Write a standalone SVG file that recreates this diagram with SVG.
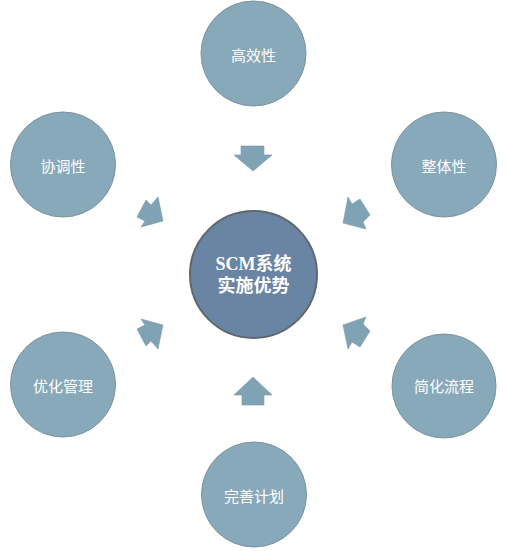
<svg xmlns="http://www.w3.org/2000/svg" width="507" height="551" viewBox="0 0 507 551">
<style>
.node{fill:#87a9ba;stroke:#7d929c;stroke-width:1}
.hub{fill:#6a85a3;stroke:#5f686d;stroke-width:2}
.lbl{font-family:"Noto Sans CJK SC","Noto Sans",sans-serif;font-size:15px;fill:#ffffff;text-anchor:middle;dominant-baseline:central}
.hubl{font-family:"Liberation Serif","Noto Sans CJK SC",serif;font-size:18px;font-weight:bold;fill:#ffffff;text-anchor:middle;dominant-baseline:central}
.arr{fill:#7fa3b5;stroke:#7898a8;stroke-width:0.6}
</style>
<rect width="507" height="551" fill="#ffffff"/>
<g id="connectors">
<polygon class="arr" points="241,146 264,146 264,155 272,155 253,171 234,155 241,155"/>
<polygon class="arr" points="253,377 272,395 264,395 264,405 242,405 242,395 234,395"/>
<polygon class="arr" points="163,221 158,197 151,205 146,200 137,217 145,221 141,227"/>
<polygon class="arr" points="163,325 158,349 151,341 146,346 137,329 145,325 141,319"/>
<polygon class="arr" points="343,223 348,197 352,204 360,199 370,215 363,222 366,229"/>
<polygon class="arr" points="343,325 348,349 352,342 360,347 370,331 363,324 366,317"/>
</g>
<g id="hub">
<circle class="hub" cx="253.5" cy="274.5" r="63.5"/>
<text class="hubl" x="253.5" y="264">SCM系统</text>
<text class="hubl" x="253.5" y="286">实施优势</text>
</g>
<g id="n-gaoxiao">
<circle class="node" cx="253.5" cy="53.5" r="52.5"/>
<text class="lbl" x="253.5" y="54">高效性</text>
</g>
<g id="n-xietiao">
<circle class="node" cx="63" cy="164.5" r="52.5"/>
<text class="lbl" x="63" y="165">协调性</text>
</g>
<g id="n-zhengti">
<circle class="node" cx="444" cy="164.5" r="52.5"/>
<text class="lbl" x="444" y="165">整体性</text>
</g>
<g id="n-youhua">
<circle class="node" cx="63" cy="384.5" r="52.5"/>
<text class="lbl" x="63" y="385">优化管理</text>
</g>
<g id="n-jianhua">
<circle class="node" cx="444" cy="386" r="52"/>
<text class="lbl" x="444" y="385">简化流程</text>
</g>
<g id="n-wanshan">
<circle class="node" cx="254" cy="494.5" r="52.5"/>
<text class="lbl" x="254" y="495">完善计划</text>
</g>
</svg>
